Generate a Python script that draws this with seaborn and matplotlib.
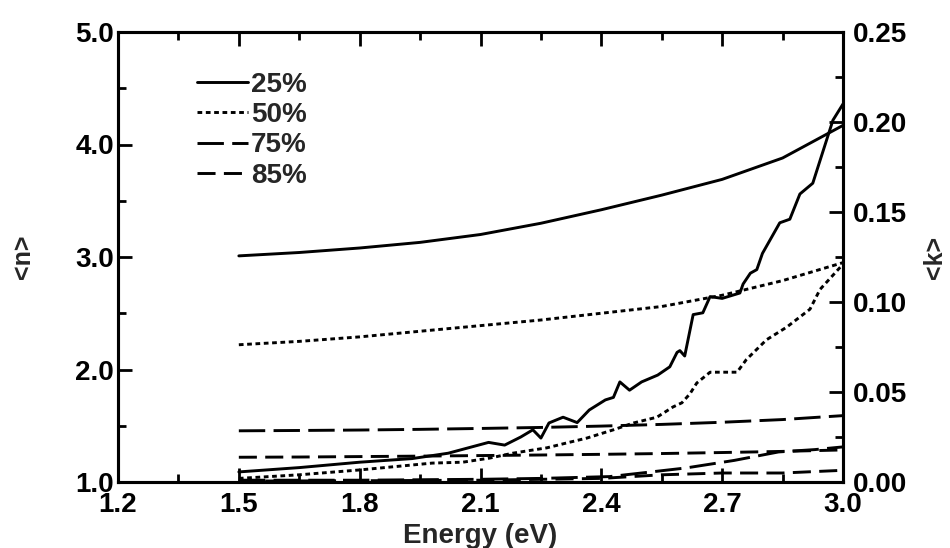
import matplotlib
matplotlib.use("Agg")
import matplotlib.pyplot as plt
from matplotlib.ticker import MultipleLocator, FormatStrFormatter
import numpy as np
import pandas as pd
import seaborn as sns

# ---- data -----------------------------------------------------------------
porosity = ["25%", "50%", "75%", "85%"]

# refractive index <n> on a common energy grid
energy_n = [1.50, 1.65, 1.80, 1.95, 2.10, 2.25, 2.40, 2.55, 2.70, 2.85, 3.00]
n_25 = [3.01, 3.04, 3.08, 3.13, 3.20, 3.30, 3.42, 3.55, 3.69, 3.88, 4.17]
n_50 = [2.22, 2.25, 2.29, 2.34, 2.39, 2.44, 2.50, 2.56, 2.66, 2.79, 2.95]
n_75 = [1.455, 1.458, 1.462, 1.468, 1.476, 1.485, 1.497, 1.512, 1.531, 1.555, 1.59]
n_85 = [1.220, 1.222, 1.226, 1.230, 1.235, 1.240, 1.246, 1.253, 1.262, 1.272, 1.285]

# extinction coefficient <k>
energy_k25 = [1.50, 1.65, 1.80, 1.93, 2.02, 2.07, 2.12, 2.16, 2.20, 2.23, 2.25,
              2.27, 2.305, 2.34, 2.37, 2.41, 2.43, 2.446, 2.47, 2.50, 2.54,
              2.57, 2.588, 2.595, 2.607, 2.628, 2.652, 2.67, 2.70, 2.744,
              2.752, 2.77, 2.786, 2.80, 2.843, 2.868, 2.893, 2.925, 2.975, 3.00]
k_25 = [0.0056, 0.008, 0.011, 0.013, 0.016, 0.019, 0.022, 0.0205, 0.025, 0.029,
        0.0244, 0.0328, 0.036, 0.033, 0.040, 0.0456, 0.047, 0.0556, 0.051,
        0.0556, 0.0594, 0.064, 0.072, 0.073, 0.070, 0.093, 0.094, 0.103,
        0.102, 0.105, 0.110, 0.116, 0.118, 0.127, 0.144, 0.146, 0.160,
        0.166, 0.201, 0.210]
energy_k50 = [1.50, 1.65, 1.80, 1.98, 2.056, 2.123, 2.18, 2.265, 2.314, 2.364,
              2.43, 2.48, 2.538, 2.578, 2.60, 2.62, 2.637, 2.67, 2.695, 2.737,
              2.76, 2.81, 2.86, 2.918, 2.943, 3.00]
k_50 = [0.002, 0.004, 0.0067, 0.0105, 0.011, 0.0133, 0.016, 0.019, 0.0217,
        0.0244, 0.029, 0.0328, 0.036, 0.0417, 0.044, 0.049, 0.055, 0.061,
        0.061, 0.061, 0.068, 0.079, 0.086, 0.096, 0.107, 0.121]
energy_k75 = [1.50, 1.80, 2.10, 2.25, 2.42, 2.50, 2.61, 2.73, 2.84, 2.93, 3.00]
k_75 = [0.001, 0.001, 0.0015, 0.002, 0.003, 0.005, 0.0078, 0.012, 0.0167, 0.018, 0.0195]
energy_k85 = [1.50, 1.80, 2.10, 2.40, 2.55, 2.70, 2.85, 3.00]
k_85 = [0.0005, 0.0007, 0.001, 0.002, 0.004, 0.005, 0.005, 0.0065]

x_ticks = [1.2, 1.5, 1.8, 2.1, 2.4, 2.7, 3.0]
n_ticks = [1.0, 2.0, 3.0, 4.0, 5.0]
k_ticks = [0.00, 0.05, 0.10, 0.15, 0.20, 0.25]

# ---- long-form tables -----------------------------------------------------
df_n = pd.concat([
    pd.DataFrame({"energy": energy_n, "value": v, "porosity": p})
    for p, v in zip(porosity, [n_25, n_50, n_75, n_85])
], ignore_index=True)
df_k = pd.concat([
    pd.DataFrame({"energy": e, "value": v, "porosity": p})
    for p, e, v in zip(porosity,
                       [energy_k25, energy_k50, energy_k75, energy_k85],
                       [k_25, k_50, k_75, k_85])
], ignore_index=True)

# ---- style ----------------------------------------------------------------
sns.set_theme(style="ticks")
plt.rcParams["font.family"] = ["Liberation Sans", "DejaVu Sans"]
plt.rcParams["font.weight"] = "bold"
plt.rcParams["axes.labelweight"] = "bold"
plt.rcParams["lines.scale_dashes"] = False

dash_map = {"25%": "", "50%": (3.4, 2.6), "75%": (19, 6), "85%": (13, 6)}
lw = 2.1
fs = 20

fig = plt.figure(figsize=(9.5, 5.48), dpi=100)
ax = fig.add_axes([118 / 950, 1 - 482 / 548, 725 / 950, 450 / 548])
ax2 = ax.twinx()

sns.lineplot(data=df_n, x="energy", y="value", style="porosity",
             style_order=porosity, dashes=dash_map, color="black",
             linewidth=lw, legend=False, sort=False, estimator=None, ax=ax)
sns.lineplot(data=df_k, x="energy", y="value", style="porosity",
             style_order=porosity, dashes=dash_map, color="black",
             linewidth=lw, legend=False, sort=False, estimator=None, ax=ax2)

ax.set_xlim(1.2, 3.0)
ax.set_ylim(1.0, 5.0)
ax2.set_ylim(0.0, 0.25)

ax.set_xticks(x_ticks)
ax.xaxis.set_minor_locator(MultipleLocator(0.15))
ax.set_yticks(n_ticks)
ax.yaxis.set_minor_locator(MultipleLocator(0.5))
ax.yaxis.set_major_formatter(FormatStrFormatter("%.1f"))
ax.xaxis.set_major_formatter(FormatStrFormatter("%.1f"))
ax2.set_yticks(k_ticks)
ax2.yaxis.set_minor_locator(MultipleLocator(0.025))
ax2.yaxis.set_major_formatter(FormatStrFormatter("%.2f"))

for a in (ax, ax2):
    for s in a.spines.values():
        s.set_linewidth(2.2)
        s.set_color("black")
    a.grid(False)

ax.tick_params(axis="x", which="both", direction="in", top=True, bottom=True,
               width=2.0, labelsize=fs, pad=7, colors="black")
ax.tick_params(axis="x", which="major", length=10)
ax.tick_params(axis="x", which="minor", length=6)
ax.tick_params(axis="y", which="both", direction="in", left=True, right=False,
               width=2.0, labelsize=fs, pad=3, colors="black")
ax.tick_params(axis="y", which="major", length=10)
ax.tick_params(axis="y", which="minor", length=6)
ax2.tick_params(axis="y", which="both", direction="in", right=True,
                width=2.0, labelsize=fs, pad=7, colors="black")
ax2.tick_params(axis="y", which="major", length=10)
ax2.tick_params(axis="y", which="minor", length=6)

ax.set_xlabel("Energy (eV)", fontsize=fs, fontweight="bold", labelpad=4)
ax.set_ylabel("<n>", fontsize=fs - 2, fontweight="bold")
ax2.set_ylabel("<k>", fontsize=fs - 2, fontweight="bold")
ax.yaxis.set_label_coords(-0.115, 0.5)
ax2.yaxis.set_label_coords(1.110, 0.5)

handles = ax.get_lines()[:4]
ax.legend(handles, porosity, loc="upper left", bbox_to_anchor=(0.109, 0.912),
          frameon=False, fontsize=fs, handlelength=1.85, handletextpad=0.1,
          labelspacing=0.16, borderpad=0, borderaxespad=0)

fig.savefig("out.png", dpi=100)
